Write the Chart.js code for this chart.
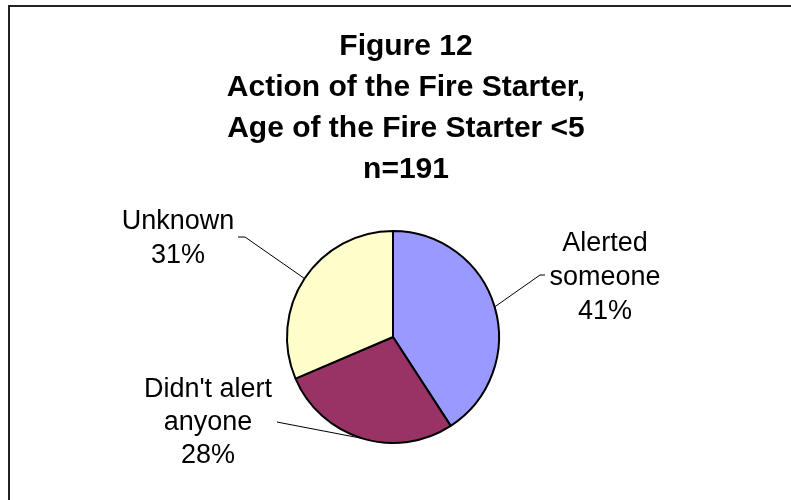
<!DOCTYPE html>
<html>
<head>
<meta charset="utf-8">
<script src="https://cdn.jsdelivr.net/npm/chart.js@4/dist/chart.umd.min.js"></script>
<style>
  html, body { margin: 0; padding: 0; background: #fff; }
  #wrap { width: 791px; height: 500px; }
</style>
</head>
<body>
<div id="wrap"><canvas id="pieChart" width="791" height="500"></canvas></div>
<script>
// chart data
const titleLines = ["Figure 12", "Action of the Fire Starter,", "Age of the Fire Starter <5", "n=191"]
const categories = ["Alerted someone", "Didn't alert anyone", "Unknown"]
const labelLines = [["Alerted", "someone"], ["Didn't alert", "anyone"], ["Unknown"]]
const counts = [78, 53, 60]
const sliceColors = ["#9999FF", "#993366", "#FFFFCC"]

const FONT = "'Liberation Sans', Arial, sans-serif"

// where each outside label goes, relative to the pie centre (px), baselines
const labelSpots = [
  { tx: 212, ty: -86, lineGap: 34, elbow: [147, -62], tail: [152, -62] },
  { tx: -185, ty: 60, lineGap: 33, elbow: [-111, 86], tail: [-116, 85] },
  { tx: -215, ty: -108, lineGap: 34, elbow: [-148, -100], tail: [-155, -100] },
]

const decoPlugin = {
  id: "deco",
  afterDraw(chart) {
    const ctx = chart.ctx
    ctx.save()

    // outer frame (only top and left edges show)
    ctx.strokeStyle = "#222"
    ctx.lineWidth = 2
    ctx.beginPath()
    ctx.moveTo(9, 500)
    ctx.lineTo(9, 6)
    ctx.lineTo(791, 6)
    ctx.stroke()

    // title
    ctx.fillStyle = "#000"
    ctx.textAlign = "center"
    ctx.textBaseline = "alphabetic"
    ctx.font = "bold 30px " + FONT
    titleLines.forEach((t, i) => ctx.fillText(t, 406, 55 + i * 41))

    // labels and leader lines
    const meta = chart.getDatasetMeta(0)
    const total = counts.reduce((a, b) => a + b, 0)
    ctx.font = "27px " + FONT
    meta.data.forEach((arc, i) => {
      const spot = labelSpots[i]
      const cx = arc.x, cy = arc.y
      const mid = (arc.startAngle + arc.endAngle) / 2
      const ex = cx + Math.cos(mid) * arc.outerRadius
      const ey = cy + Math.sin(mid) * arc.outerRadius

      ctx.strokeStyle = "#000"
      ctx.lineWidth = 1
      ctx.beginPath()
      ctx.moveTo(ex, ey)
      ctx.lineTo(cx + spot.elbow[0], cy + spot.elbow[1])
      ctx.lineTo(cx + spot.tail[0], cy + spot.tail[1])
      ctx.stroke()

      const lines = labelLines[i].concat([Math.round(counts[i] / total * 100) + "%"])
      lines.forEach((t, j) => {
        ctx.fillText(t, cx + spot.tx, cy + spot.ty + j * spot.lineGap)
      })
    })
    ctx.restore()
  },
}

new Chart(document.getElementById("pieChart"), {
  type: "pie",
  data: {
    labels: categories,
    datasets: [
      {
        data: counts,
        backgroundColor: sliceColors,
        borderColor: "#000",
        borderWidth: 2,
      },
    ],
  },
  options: {
    responsive: false,
    animation: false,
    layout: { padding: { left: 286, right: 291, top: 230, bottom: 56 } },
    plugins: {
      legend: { display: false },
      tooltip: { enabled: false },
    },
  },
  plugins: [decoPlugin],
})
</script>
</body>
</html>
